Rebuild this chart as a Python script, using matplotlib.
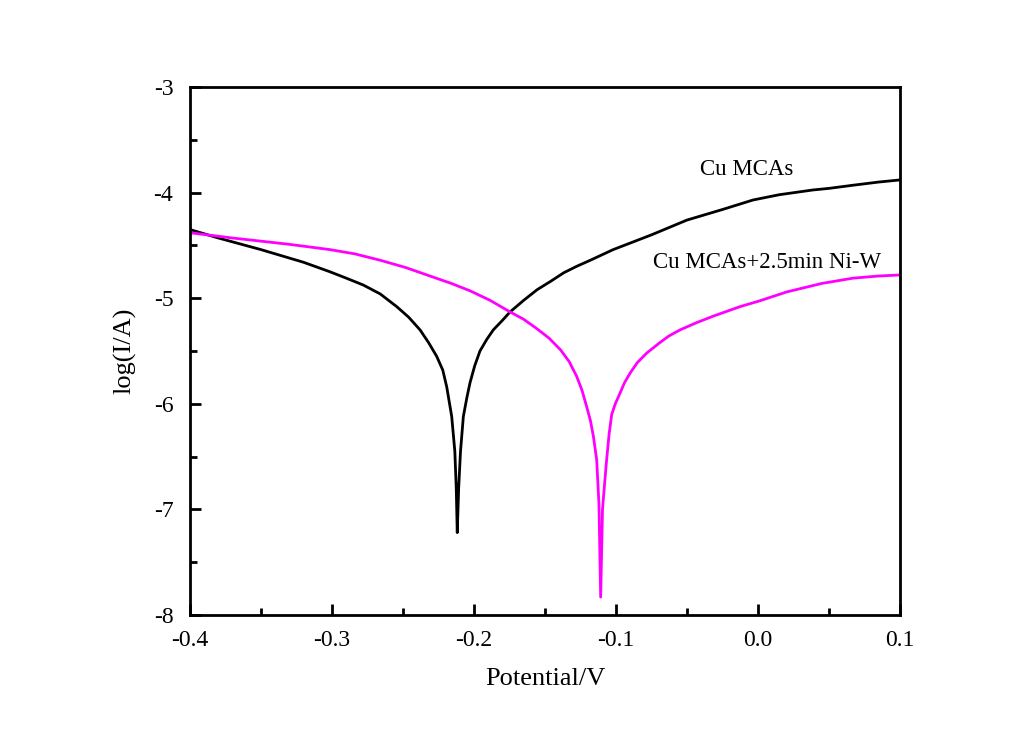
import matplotlib
matplotlib.use("Agg")
import matplotlib.pyplot as plt
from matplotlib.ticker import MultipleLocator

# Cu MCAs (black)
cu_x = [-0.400, -0.380, -0.350, -0.320, -0.3014, -0.290, -0.278, -0.266, -0.2544, -0.246,
        -0.238, -0.232, -0.2263, -0.2220, -0.2192, -0.2157, -0.2135, -0.2125, -0.2118, -0.2108,
        -0.2095, -0.2075, -0.2050, -0.2028, -0.1995, -0.1958, -0.1910, -0.1864, -0.1800, -0.1746,
        -0.1650, -0.1556, -0.1460, -0.1369, -0.1280, -0.118, -0.102, -0.075,
        -0.050, -0.025, -0.0035, 0.015, 0.0387, 0.050, 0.067, 0.085, 0.100]
cu_y = [-4.35, -4.43, -4.54, -4.66, -4.75, -4.81, -4.875, -4.96, -5.08, -5.18,
        -5.30, -5.42, -5.55, -5.68, -5.84, -6.12, -6.45, -6.80, -7.22, -6.80,
        -6.45, -6.12, -5.94, -5.80, -5.64, -5.50, -5.39, -5.30, -5.21, -5.13,
        -5.02, -4.92, -4.84, -4.76, -4.70, -4.64, -4.54, -4.40,
        -4.26, -4.16, -4.07, -4.02, -3.975, -3.96, -3.93, -3.90, -3.88]

# Cu MCAs + 2.5min Ni-W (magenta)
niw_x = [-0.400, -0.370, -0.3300, -0.3014, -0.2840, -0.2662, -0.2480, -0.2310, -0.2160, -0.2028,
         -0.1887, -0.1746, -0.1650, -0.1556, -0.1470, -0.1390, -0.1330, -0.1277, -0.1240, -0.1206,
         -0.1180, -0.1159, -0.1136, -0.1120, -0.1108, -0.1095, -0.1080, -0.1066, -0.1048, -0.1030,
         -0.1005, -0.0972, -0.0940, -0.0901, -0.0850, -0.0784, -0.0700, -0.0630, -0.0549, -0.0430,
         -0.0315, -0.0127, 0.000, 0.0204, 0.045, 0.067, 0.085, 0.100]
niw_y = [-4.38, -4.43, -4.49, -4.54, -4.58, -4.64, -4.71, -4.79, -4.86, -4.93,
         -5.02, -5.13, -5.20, -5.29, -5.38, -5.49, -5.60, -5.74, -5.87, -6.03,
         -6.16, -6.31, -6.53, -6.95, -7.83, -7.00, -6.75, -6.53, -6.28, -6.10,
         -6.00, -5.90, -5.80, -5.71, -5.61, -5.52, -5.43, -5.36, -5.30, -5.23,
         -5.17, -5.08, -5.03, -4.94, -4.86, -4.81, -4.79, -4.78]

labels = ["Cu MCAs", "Cu MCAs+2.5min Ni-W"]

plt.rcParams['font.family'] = ['Liberation Serif', 'DejaVu Serif']

fig = plt.figure(figsize=(10.33, 7.31), dpi=100)
ax = fig.add_axes([190/1033, 1 - 615/731, 710/1033, 528/731])

ax.plot(cu_x, cu_y, color='black', lw=2.0, solid_joinstyle='round')
ax.plot(niw_x, niw_y, color='#ff00ff', lw=2.0, solid_joinstyle='round')

ax.text(-0.0077, -3.78, labels[0], fontsize=16.5, ha='center', va='center')
ax.text(0.0063, -4.66, labels[1], fontsize=16.5, ha='center', va='center')

ax.set_xlim(-0.4, 0.1)
ax.set_ylim(-8, -3)
ax.xaxis.set_major_locator(MultipleLocator(0.1))
ax.xaxis.set_minor_locator(MultipleLocator(0.05))
ax.yaxis.set_major_locator(MultipleLocator(1))
ax.yaxis.set_minor_locator(MultipleLocator(0.5))
ax.set_xticks([-0.4, -0.3, -0.2, -0.1, 0.0, 0.1])
ax.set_xticklabels(['-0.4', '-0.3', '-0.2', '-0.1', '0.0', '0.1'])
ax.set_yticks([-8, -7, -6, -5, -4, -3])
ax.set_yticklabels(['-8', '-7', '-6', '-5', '-4', '-3'])

ax.tick_params(which='both', direction='in', top=False, right=False, labelsize=17, width=2)
ax.tick_params(axis='x', which='major', length=8, pad=11)
ax.tick_params(axis='y', which='major', length=8, pad=12)
ax.tick_params(which='minor', length=5)
for s in ax.spines.values():
    s.set_linewidth(2)

ax.set_xlabel('Potential/V', fontsize=19, labelpad=12)
ax.set_ylabel('log(I/A)', fontsize=19, labelpad=12)

fig.savefig('out.png', dpi=100, facecolor='white')
